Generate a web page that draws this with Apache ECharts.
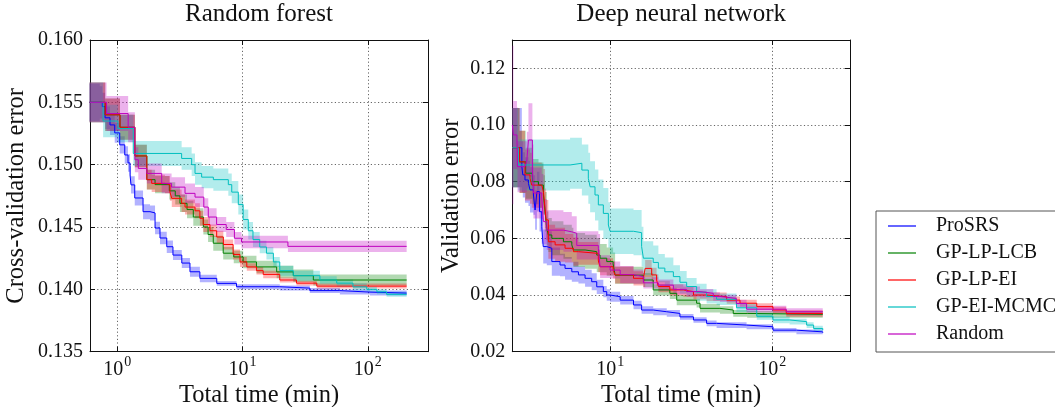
<!DOCTYPE html>
<html><head><meta charset="utf-8">
<script src="https://cdn.jsdelivr.net/npm/echarts@6/dist/echarts.min.js"></script>
<style>html,body{margin:0;padding:0;background:#fff}#c{width:1055px;height:407px}</style>
</head><body><div id="c"></div><script>
// ---------- data: [time (min), mean error, half band width] ----------
const seriesNames = ['ProSRS', 'GP-LP-LCB', 'GP-LP-EI', 'GP-EI-MCMC', 'Random'];
const panelTitles = ['Random forest', 'Deep neural network'];
const yAxisNames = ['Cross-validation error', 'Validation error'];
const xAxisName = 'Total time (min)';

const rf_ProSRS = [[0.6,0.1550,0.0015],[0.724,0.1550,0.0013],[0.759,0.15466,0.0011],[0.798,0.15376,0.0009],[0.874,0.15319,0.0008],[0.953,0.15255,0.0008],[1.045,0.15159,0.0007],[1.146,0.15078,0.0007],[1.217,0.15014,0.0007],[1.263,0.14918,0.0007],[1.286,0.14838,0.0007],[1.377,0.14733,0.0006],[1.604,0.14623,0.0006],[1.823,0.14613,0.0006],[2.0,0.14492,0.0005],[2.19,0.14412,0.0005],[2.48,0.14342,0.0005],[2.78,0.14275,0.0004],[3.27,0.14211,0.0004],[3.80,0.14141,0.0004],[4.56,0.14088,0.0003],[6.22,0.14048,0.0002],[8.94,0.14021,0.0002],[19.8,0.1401,0.0002],[34.4,0.1399,0.0002],[59.8,0.13978,0.0002],[104,0.1397,0.0002],[204,0.13966,0.0002]];
const rf_GPLPLCB = [[0.6,0.155,0.0016],[0.8,0.1540,0.0013],[1.05,0.1530,0.0010],[1.38,0.1507,0.0009],[1.72,0.1488,0.0008],[2.0,0.1484,0.0007],[2.6,0.1479,0.0007],[2.9,0.1475,0.0007],[3.16,0.1469,0.0007],[3.6,0.1464,0.0007],[4.04,0.1458,0.0007],[4.86,0.1450,0.0006],[5.3,0.1444,0.0006],[5.83,0.1437,0.0006],[7.0,0.1429,0.0005],[8.5,0.1426,0.0005],[10.1,0.1422,0.0005],[12.9,0.1418,0.0005],[18.7,0.1414,0.0005],[25.4,0.1411,0.0005],[36.7,0.14075,0.00045],[204,0.14075,0.00045]];
const rf_GPLPEI = [[0.6,0.155,0.0016],[0.8,0.1540,0.0013],[1.05,0.1530,0.0010],[1.38,0.1507,0.0009],[1.72,0.1488,0.0008],[1.88,0.1485,0.0007],[2.40,0.1484,0.0007],[2.63,0.1478,0.0007],[2.72,0.1473,0.0007],[3.26,0.1469,0.0007],[3.47,0.1466,0.0006],[4.17,0.1463,0.0006],[4.56,0.1457,0.0006],[4.85,0.1452,0.0006],[5.49,0.1447,0.0005],[6.21,0.1442,0.0005],[7.02,0.1436,0.0004],[8.4,0.1428,0.0004],[9.53,0.1422,0.0004],[10.8,0.1418,0.0003],[12.9,0.1415,0.0003],[14.6,0.1412,0.0003],[19.8,0.14075,0.0002],[26.9,0.1405,0.0002],[39.1,0.14026,0.0002],[204,0.14025,0.0002]];
const rf_GPEIMCMC = [[0.6,0.155,0.0016],[0.77,0.1535,0.0013],[1.01,0.1529,0.0011],[1.34,0.1509,0.0010],[3.26,0.1505,0.0009],[3.92,0.1500,0.0009],[4.17,0.1493,0.0009],[4.71,0.1490,0.0009],[5.84,0.1488,0.0009],[7.69,0.1484,0.0009],[8.19,0.1478,0.0009],[9.24,0.1468,0.0008],[10.1,0.1456,0.0008],[11.1,0.1447,0.0007],[12.1,0.1440,0.0006],[13.7,0.1434,0.0005],[15.5,0.1429,0.0005],[17.6,0.1422,0.0004],[19.8,0.1415,0.0004],[25.4,0.1411,0.0004],[41.4,0.14075,0.0003],[56.4,0.1405,0.0003],[76,0.1402,0.0003],[98,0.1400,0.0002],[118,0.1398,0.0002],[141,0.1396,0.0002],[204,0.1396,0.0002]];
const rf_Random = [[0.6,0.155,0.0016],[0.82,0.1541,0.0014],[1.22,0.1530,0.0012],[1.38,0.1504,0.0010],[1.47,0.1497,0.0009],[1.72,0.1493,0.0008],[2.26,0.1485,0.0008],[2.71,0.1482,0.0008],[3.47,0.1477,0.0008],[4.17,0.1474,0.0008],[4.9,0.1466,0.0007],[5.32,0.1458,0.0007],[6.2,0.1452,0.0006],[7.4,0.1448,0.0006],[8.6,0.1441,0.0005],[9.8,0.1438,0.0005],[23,0.14345,0.00045],[204,0.14345,0.00045]];

const dnn_ProSRS = [[2.48,0.092,0.014],[2.84,0.0853,0.009],[2.88,0.0824,0.008],[2.97,0.0806,0.008],[3.12,0.0794,0.008],[3.19,0.0771,0.008],[3.35,0.0753,0.007],[3.43,0.0700,0.007],[3.52,0.0765,0.007],[3.65,0.0694,0.007],[3.77,0.0641,0.006],[3.85,0.0571,0.006],[4.05,0.0565,0.006],[4.35,0.0518,0.005],[4.89,0.0506,0.004],[5.25,0.0494,0.004],[5.78,0.0482,0.0035],[6.35,0.0471,0.003],[6.98,0.0459,0.003],[7.67,0.0447,0.003],[8.24,0.0429,0.0025],[9.05,0.0412,0.002],[9.5,0.0400,0.002],[9.96,0.0394,0.0018],[11.5,0.0382,0.0015],[13.9,0.0365,0.0015],[15.6,0.0347,0.0013],[18.4,0.0341,0.0012],[22.3,0.0335,0.0012],[26.9,0.0323,0.001],[32.6,0.0312,0.001],[39.3,0.0300,0.001],[45.3,0.0294,0.001],[69.4,0.0288,0.0009],[101,0.0276,0.0008],[141,0.0270,0.0008],[205,0.0267,0.0008]];
const dnn_GPLPLCB = [[2.48,0.092,0.014],[2.75,0.0870,0.011],[3.0,0.0830,0.009],[3.3,0.0800,0.008],[3.6,0.0788,0.008],[3.86,0.0753,0.007],[3.95,0.0694,0.007],[4.05,0.0635,0.006],[4.14,0.0612,0.006],[4.35,0.0600,0.006],[5.13,0.0588,0.006],[5.78,0.0577,0.006],[5.91,0.0559,0.006],[6.98,0.0553,0.006],[8.24,0.0541,0.006],[8.64,0.0530,0.005],[9.5,0.0518,0.005],[10.4,0.0510,0.004],[10.7,0.0470,0.003],[16.0,0.0453,0.0025],[18.4,0.0418,0.002],[23.3,0.0406,0.002],[25.7,0.0382,0.0018],[34.1,0.0371,0.0015],[35.8,0.0353,0.0015],[47.5,0.0347,0.0013],[57.4,0.0335,0.0012],[70,0.0332,0.0012],[205,0.0332,0.0012]];
const dnn_GPLPEI = [[2.48,0.092,0.014],[2.75,0.0870,0.011],[2.97,0.0824,0.009],[3.19,0.0812,0.009],[3.27,0.0788,0.008],[3.77,0.0782,0.008],[3.86,0.0765,0.008],[3.95,0.0706,0.007],[4.01,0.0665,0.007],[4.14,0.0588,0.006],[4.56,0.0577,0.006],[5.25,0.0565,0.005],[5.91,0.0553,0.005],[6.35,0.0547,0.004],[8.43,0.0520,0.004],[8.64,0.0500,0.003],[10.4,0.0488,0.003],[10.7,0.0471,0.003],[13.9,0.0459,0.0025],[16.0,0.0453,0.0025],[16.4,0.0494,0.003],[18.0,0.0471,0.0025],[19.3,0.0453,0.002],[19.8,0.0430,0.002],[23.3,0.0418,0.002],[28.2,0.0412,0.0018],[32.6,0.0400,0.0015],[39.3,0.0394,0.0015],[52.3,0.0382,0.0013],[63.2,0.0371,0.0012],[80.2,0.0359,0.0012],[101,0.0347,0.0012],[122,0.0335,0.0012],[205,0.0335,0.0012]];
const dnn_GPEIMCMC = [[2.48,0.092,0.014],[2.7,0.0859,0.009],[5.64,0.0865,0.009],[6.67,0.0841,0.009],[7.31,0.0812,0.009],[7.5,0.0782,0.009],[8.04,0.0753,0.009],[8.43,0.0718,0.009],[9.05,0.0688,0.009],[9.72,0.0647,0.008],[9.96,0.0625,0.008],[13.9,0.0620,0.008],[15.6,0.0571,0.007],[16.0,0.0530,0.006],[18.4,0.0515,0.006],[19.8,0.0495,0.005],[21.7,0.0482,0.005],[24.5,0.0465,0.004],[26.9,0.0445,0.004],[29.6,0.0430,0.003],[34.1,0.0410,0.003],[39.3,0.0395,0.0025],[45.3,0.0385,0.002],[60.1,0.0355,0.0015],[80.2,0.0325,0.0012],[101,0.0312,0.0012],[128,0.0306,0.001],[163,0.0294,0.001],[180,0.0282,0.001],[205,0.0276,0.001]];
const dnn_Random = [[2.48,0.100,0.028],[2.52,0.0965,0.012],[2.65,0.0953,0.011],[2.67,0.0853,0.009],[2.97,0.0853,0.009],[3.05,0.0876,0.010],[3.12,0.0947,0.013],[3.3,0.0841,0.009],[3.35,0.0760,0.009],[3.77,0.0747,0.008],[3.86,0.0659,0.008],[4.05,0.0629,0.007],[5.13,0.0623,0.007],[5.78,0.0618,0.006],[6.2,0.0575,0.005],[8.43,0.0565,0.005],[8.64,0.0500,0.004],[9.96,0.0488,0.003],[11.5,0.0472,0.003],[13.9,0.0465,0.0025],[16.0,0.0443,0.002],[19.8,0.0435,0.002],[24.5,0.0420,0.0018],[29.6,0.0412,0.0018],[35.8,0.0406,0.0015],[43.2,0.0395,0.0015],[47.5,0.0388,0.0013],[60,0.0370,0.0013],[69.4,0.0350,0.0012],[122,0.0341,0.0012],[205,0.0341,0.0012]];

const rfData = [rf_ProSRS, rf_GPLPLCB, rf_GPLPEI, rf_GPEIMCMC, rf_Random];
const dnnData = [dnn_ProSRS, dnn_GPLPLCB, dnn_GPLPEI, dnn_GPEIMCMC, dnn_Random];

// ---------- style ----------
const colors = ['#0000ff', '#008000', '#ff0000', '#00bfbf', '#bf00bf'];
const bandFill = ['rgba(0,0,255,0.3)', 'rgba(0,128,0,0.3)', 'rgba(255,0,0,0.3)', 'rgba(0,191,191,0.3)', 'rgba(191,0,191,0.3)'];
const FONT = "'Liberation Serif','Times New Roman',serif";
const INK = '#111';

const grids = [
  {left: 90, top: 40, width: 338, height: 311.7},
  {left: 512.3, top: 40, width: 337.7, height: 311.7}
];
const xRanges = [[0.605, 302], [2.48, 302]];
const yRanges = [{min: 0.135, max: 0.160, interval: 0.005, dec: 3}, {min: 0.02, max: 0.13, interval: 0.02, dec: 2}];

function logLabel(v) {
  const e = Math.round(Math.log10(v));
  if (Math.abs(v - Math.pow(10, e)) > 1e-6 * v) return '';
  return '{b|10}{s|' + e + '}';
}

const xAxis = [], yAxis = [], series = [], titles = [];
[0, 1].forEach(g => {
  const common = {
    gridIndex: g,
    axisLine: {show: true, onZero: false, lineStyle: {color: INK, width: 1}},
    axisTick: {show: true, inside: true, length: 5, lineStyle: {color: INK, width: 1}},
  };
  xAxis.push(Object.assign({}, common, {
    type: 'log', logBase: 10, min: xRanges[g][0], max: xRanges[g][1], position: 'bottom',
    splitLine: {show: true, lineStyle: {color: '#666', type: [1.2, 2.4], width: 1}},
    axisLabel: {
      formatter: logLabel, margin: 4, showMinLabel: false, showMaxLabel: false,
      rich: {
        b: {fontFamily: FONT, fontSize: 20, color: INK, lineHeight: 24, verticalAlign: 'bottom'},
        s: {fontFamily: FONT, fontSize: 14, color: INK, lineHeight: 14, verticalAlign: 'top', padding: [0, 0, 0, 1]}
      }
    },
    name: xAxisName, nameLocation: 'middle', nameGap: 31, nameMoveOverlap: false,
    nameTextStyle: {fontFamily: FONT, fontSize: 24.5, color: INK}
  }));
  yAxis.push(Object.assign({}, common, {
    type: 'value', min: yRanges[g].min, max: yRanges[g].max, interval: yRanges[g].interval, position: 'left',
    splitLine: {show: true, lineStyle: {color: '#666', type: [1.2, 2.4], width: 1}},
    axisLabel: {
      formatter: v => v.toFixed(yRanges[g].dec), margin: 7, showMaxLabel: g === 0,
      fontFamily: FONT, fontSize: 20, color: INK
    },
    name: yAxisNames[g], nameLocation: 'middle', nameGap: g === 0 ? 61 : 48, nameMoveOverlap: false,
    nameTextStyle: {fontFamily: FONT, fontSize: 24.5, color: INK}
  }));
  titles.push({
    text: panelTitles[g], left: grids[g].left + grids[g].width / 2, top: 2, textAlign: 'center', padding: 0,
    textStyle: {fontFamily: FONT, fontSize: 25, fontWeight: 'normal', color: INK}
  });
});
// mirrored axes (top / right) for inward ticks on all sides
[0, 1].forEach(g => {
  xAxis.push({
    gridIndex: g, type: 'log', logBase: 10, min: xRanges[g][0], max: xRanges[g][1], position: 'top',
    axisLine: {show: true, onZero: false, lineStyle: {color: INK, width: 1}},
    axisTick: {show: true, inside: true, length: 5, lineStyle: {color: INK}},
    axisLabel: {show: false}, splitLine: {show: false}
  });
  yAxis.push({
    gridIndex: g, type: 'value', min: yRanges[g].min, max: yRanges[g].max, interval: yRanges[g].interval, position: 'right',
    axisLine: {show: true, onZero: false, lineStyle: {color: INK, width: 1}},
    axisTick: {show: true, inside: true, length: 5, lineStyle: {color: INK}},
    axisLabel: {show: false}, splitLine: {show: false}
  });
});

// band drawn as one step-shaped polygon through the axis scales
function bandRenderer(d, fill) {
  return function (params, api) {
    if (params.dataIndex !== 0) return null;
    const up = [], lo = [];
    for (let k = 0; k < d.length; k++) {
      const t0 = d[k][0];
      const t1 = k + 1 < d.length ? d[k + 1][0] : d[k][0];
      up.push(api.coord([t0, d[k][1] + d[k][2]]), api.coord([t1, d[k][1] + d[k][2]]));
      lo.push(api.coord([t0, d[k][1] - d[k][2]]), api.coord([t1, d[k][1] - d[k][2]]));
    }
    return {type: 'polygon', shape: {points: up.concat(lo.reverse())}, style: {fill: fill}, silent: true};
  };
}

[rfData, dnnData].forEach((panel, g) => {
  panel.forEach((d, i) => {
    series.push({
      type: 'custom', name: seriesNames[i] + ' band', xAxisIndex: g, yAxisIndex: g, z: 1,
      renderItem: bandRenderer(d, bandFill[i]), silent: true, animation: false,
      encode: {x: 0, y: 1},
      data: d.map(p => [p[0], p[1]])
    });
  });
  panel.forEach((d, i) => {
    series.push({
      type: 'line', xAxisIndex: g, yAxisIndex: g, step: 'end', symbol: 'none', animation: false,
      name: seriesNames[i], z: 3, color: colors[i],
      itemStyle: {color: colors[i]},
      lineStyle: {color: colors[i], width: 1},
      data: d.map(p => [p[0], p[1]])
    });
  });
});

const chart = echarts.init(document.getElementById('c'), null, {renderer: 'canvas'});
chart.setOption({
  animation: false,
  backgroundColor: '#fff',
  title: titles,
  grid: grids.map(gr => Object.assign({containLabel: false, outerBoundsMode: 'none'}, gr)),
  xAxis: xAxis,
  yAxis: yAxis,
  legend: {
    data: seriesNames, orient: 'vertical', left: 876, top: 211, selectedMode: false,
    itemWidth: 28, itemHeight: 10, itemGap: 7, padding: [5, 40, 8, 12],
    borderColor: '#555', borderWidth: 1, backgroundColor: '#fff',
    icon: 'path://M0,0 L28,0 L28,1.2 L0,1.2 Z',
    textStyle: {fontFamily: FONT, fontSize: 20, color: INK, lineHeight: 20, padding: [0, 0, 0, 15]}
  },
  series: series
});
</script></body></html>
